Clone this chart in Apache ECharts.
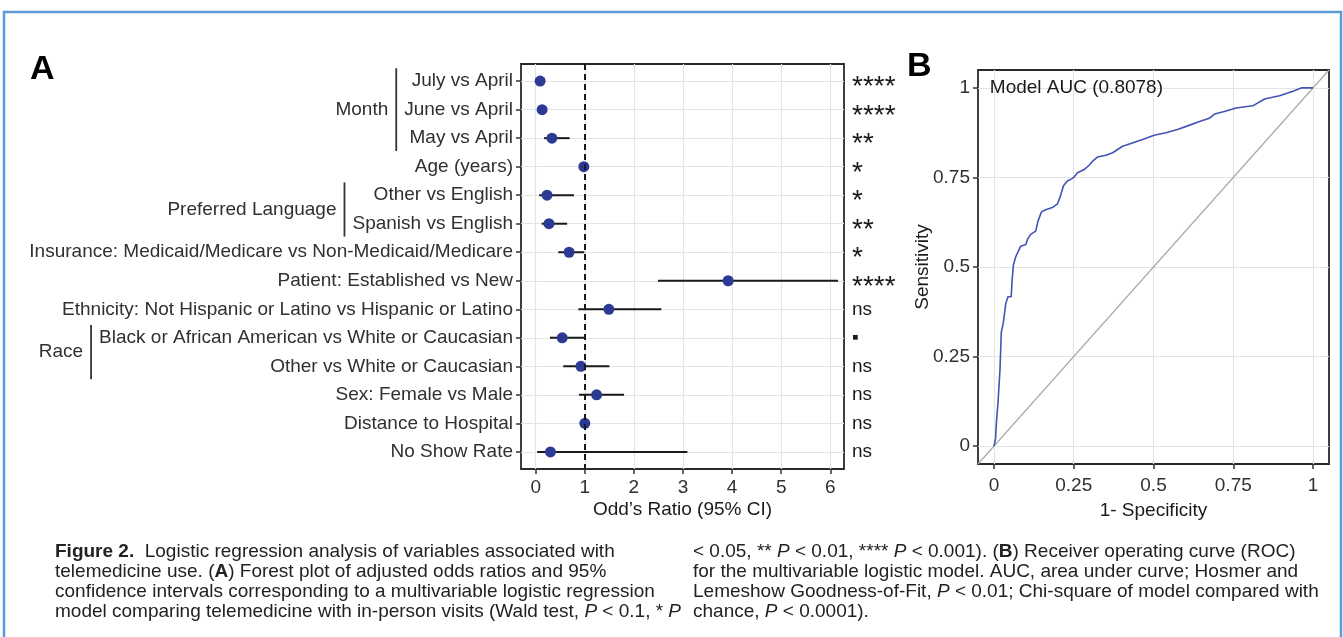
<!DOCTYPE html>
<html><head><meta charset="utf-8">
<script src="https://cdn.jsdelivr.net/npm/echarts@6/dist/echarts.min.js"></script>
<style>html,body{margin:0;padding:0;background:#fff}#c{width:1343px;height:637px}</style>
</head><body><div id="c"></div>
<script>
// ---------- DATA ----------
const variables = ['July vs April','June vs April','May vs April','Age (years)','Other vs English','Spanish vs English',
  'Insurance: Medicaid/Medicare vs Non-Medicaid/Medicare','Patient: Established vs New',
  'Ethnicity: Not Hispanic or Latino vs Hispanic or Latino','Black or African American vs White or Caucasian',
  'Other vs White or Caucasian','Sex: Female vs Male','Distance to Hospital','No Show Rate'];
const oddsRatio = [0.09,0.13,0.33,0.98,0.23,0.27,0.68,3.92,1.49,0.54,0.92,1.24,1.00,0.30];
const ciLower   = [0.05,0.08,0.17,0.97,0.07,0.12,0.46,2.49,0.87,0.29,0.56,0.88,0.98,0.03];
const ciUpper   = [0.14,0.22,0.69,0.99,0.78,0.64,0.99,6.16,2.56,1.00,1.50,1.80,1.02,3.09];
const significance = ['****','****','**','*','*','**','*','****','ns','▪','ns','ns','ns','ns'];
const groupNames = ['Month','Preferred Language','Race'];
const groupFirstRow = [1,5,10];
const groupLastRow  = [3,6,11];
const orTicks = [0,1,2,3,4,5,6];
const refOR = 1;

const rocFpr = [0,0.003,0.005,0.008,0.013,0.019,0.023,0.029,0.037,0.044,0.054,0.057,0.061,0.068,0.079,0.084,0.100,0.105,0.115,0.131,0.138,0.149,0.162,0.183,0.199,0.207,0.218,0.230,0.243,0.251,0.262,0.283,0.298,0.309,0.324,0.351,0.372,0.403,0.429,0.466,0.502,0.539,0.575,0.607,0.644,0.675,0.691,0.722,0.759,0.811,0.848,0.895,0.937,0.963,1.0];
const rocTpr = [0,0.000,0.020,0.070,0.125,0.215,0.318,0.342,0.398,0.417,0.417,0.464,0.506,0.528,0.549,0.558,0.563,0.577,0.591,0.600,0.628,0.654,0.660,0.666,0.676,0.695,0.727,0.740,0.746,0.751,0.763,0.772,0.784,0.795,0.807,0.812,0.819,0.837,0.845,0.856,0.868,0.875,0.884,0.894,0.906,0.915,0.927,0.934,0.944,0.950,0.969,0.978,0.991,1.000,1.0];
const rocTicks = [0,0.25,0.5,0.75,1];
const aucText = 'Model AUC (0.8078)';

const captionLeft = [
  '{b|Figure 2.}  Logistic regression analysis of variables associated with',
  'telemedicine use. ({b|A}) Forest plot of adjusted odds ratios and 95%',
  'confidence intervals corresponding to a multivariable logistic regression',
  'model comparing telemedicine with in-person visits (Wald test, {i|P} < 0.1, * {i|P}'
];
const captionRight = [
  '< 0.05, ** {i|P} < 0.01, **** {i|P} < 0.001). ({b|B}) Receiver operating curve (ROC)',
  'for the multivariable logistic model. AUC, area under curve; Hosmer and',
  'Lemeshow Goodness-of-Fit, {i|P} < 0.01; Chi-square of model compared with',
  'chance, {i|P} < 0.0001).'
];

// ---------- STYLE ----------
const FONT = '"Liberation Sans", Arial, Helvetica, sans-serif';
const FS = 19;
const labelColor = '#303030';
const gridLine = {show:true, lineStyle:{color:'#e4e4e4', width:1.2}};
const tick = {show:true, length:5, lineStyle:{color:'#333', width:1.5}};
const noLine = {show:false, onZero:false};
const rows = variables.map((v,i)=>i+1);
const orMin = -0.3, orMax = 6.28;
const rocMin = -0.05, rocMax = 1.05;

const chart = echarts.init(document.getElementById('c'), null, {renderer:'canvas'});

const option = {
  animation:false,
  backgroundColor:'#fff',
  textStyle:{fontFamily:FONT},
  grid:[
    {left:521, top:64, width:323, height:405, show:true, borderColor:'#2a2a2a', borderWidth:1.8, backgroundColor:'#fff', z:0},
    {left:978, top:70, width:351, height:394, show:true, borderColor:'#2a2a2a', borderWidth:1.8, backgroundColor:'#fff', z:0}
  ],
  xAxis:[
    {type:'value', gridIndex:0, min:orMin, max:orMax,
     axisLine:noLine, axisTick:Object.assign({customValues:orTicks}, tick),
     axisLabel:{customValues:orTicks, fontSize:FS, color:labelColor, margin:9, fontFamily:FONT},
     splitLine:gridLine,
     name:"Odd’s Ratio (95% CI)", nameLocation:'middle', nameGap:31, nameMoveOverlap:false,
     nameTextStyle:{fontSize:FS, color:'#1a1a1a', fontFamily:FONT}},
    {type:'value', gridIndex:1, min:rocMin, max:rocMax,
     axisLine:noLine, axisTick:Object.assign({customValues:rocTicks}, tick),
     axisLabel:{customValues:rocTicks, fontSize:FS, color:labelColor, margin:12, fontFamily:FONT, formatter:v=>String(v)},
     splitLine:gridLine,
     name:'1- Specificity', nameLocation:'middle', nameGap:37, nameMoveOverlap:false,
     nameTextStyle:{fontSize:FS, color:'#1a1a1a', fontFamily:FONT}}
  ],
  yAxis:[
    {type:'value', gridIndex:0, min:0.4, max:14.6, inverse:true,
     axisLine:noLine, axisTick:Object.assign({customValues:rows}, tick),
     axisLabel:{customValues:rows, fontSize:FS, color:labelColor, margin:8, fontFamily:FONT,
       formatter:v=>variables[Math.round(v)-1] || ''},
     splitLine:gridLine},
    {type:'value', gridIndex:0, position:'right', min:0.4, max:14.6, inverse:true,
     axisLine:noLine, axisTick:{show:false, customValues:rows},
     axisLabel:{customValues:rows, fontSize:FS, color:'#1a1a1a', margin:8, fontFamily:FONT,
       formatter:v=>{const s=significance[Math.round(v)-1]||''; return s.indexOf('*')>=0 ? '{s|'+s+'}' : s;},
       rich:{s:{fontSize:28, fontFamily:FONT, color:'#1a1a1a', padding:[13,0,0,0]}}},
     splitLine:{show:false}},
    {type:'value', gridIndex:1, min:rocMin, max:rocMax,
     axisLine:noLine, axisTick:Object.assign({customValues:rocTicks}, tick),
     axisLabel:{customValues:rocTicks, fontSize:FS, color:labelColor, margin:8, fontFamily:FONT, formatter:v=>String(v)},
     splitLine:gridLine,
     name:'Sensitivity', nameLocation:'middle', nameGap:46, nameMoveOverlap:false,
     nameTextStyle:{fontSize:FS, color:'#1a1a1a', fontFamily:FONT}}
  ],
  series:[
    {type:'custom', xAxisIndex:0, yAxisIndex:0, z:2, silent:true,
     data: rows.map((r,i)=>[ciLower[i], ciUpper[i], r]),
     encode:{x:[0,1], y:2},
     renderItem:(params, api)=>{
       const a = api.coord([api.value(0), api.value(2)]);
       const b = api.coord([api.value(1), api.value(2)]);
       return {type:'line', shape:{x1:a[0], y1:a[1], x2:b[0], y2:b[1]}, style:{stroke:'#1a1a1a', lineWidth:2}};
     }},
    {type:'scatter', xAxisIndex:0, yAxisIndex:0, z:3, silent:true,
     symbolSize:11, itemStyle:{color:'#2c3a94', opacity:1},
     data: rows.map((r,i)=>[oddsRatio[i], r]),
     markLine:{silent:true, symbol:'none', label:{show:false}, z:5,
       lineStyle:{color:'#1a1a1a', width:2, type:[6,4]},
       data:[{xAxis:refOR}]}},
    {type:'line', xAxisIndex:1, yAxisIndex:2, z:3, silent:true, showSymbol:false,
     lineStyle:{color:'#4453b5', width:1.6}, itemStyle:{color:'#4453b5'},
     data: rocFpr.map((x,i)=>[x, rocTpr[i]]),
     markLine:{silent:true, symbol:'none', label:{show:false}, z:2,
       lineStyle:{color:'#aaaaaa', width:1.2, type:'solid'},
       data:[[{coord:[rocMin,rocMin]},{coord:[rocMax,rocMax]}]]}}
  ]
};
chart.setOption(option);

// ---------- ANNOTATIONS ----------
const ctx = document.createElement('canvas').getContext('2d');
ctx.font = FS + 'px ' + FONT;
const axisLeftPx = chart.convertToPixel({xAxisIndex:0}, orMin);
const labelRight = axisLeftPx - 8;
const graphics = [];
groupNames.forEach((g, k)=>{
  let maxW = 0;
  for (let r = groupFirstRow[k]; r <= groupLastRow[k]; r++) maxW = Math.max(maxW, ctx.measureText(variables[r-1]).width);
  const bx = labelRight - maxW - 8;
  const y1 = chart.convertToPixel({yAxisIndex:0}, groupFirstRow[k] - 0.45);
  const y2 = chart.convertToPixel({yAxisIndex:0}, groupLastRow[k] + 0.45);
  const ym = chart.convertToPixel({yAxisIndex:0}, (groupFirstRow[k] + groupLastRow[k]) / 2);
  graphics.push({type:'line', shape:{x1:bx, y1:y1, x2:bx, y2:y2}, style:{stroke:'#333', lineWidth:1.8}, silent:true});
  graphics.push({type:'text', x:bx - 8, y:ym, style:{text:g, font:FS+'px '+FONT, fill:labelColor, align:'right', verticalAlign:'middle'}, silent:true});
});
// AUC annotation
const aucPos = chart.convertToPixel({xAxisIndex:1, yAxisIndex:2}, [-0.013, 1]);
graphics.push({type:'text', x:aucPos[0], y:aucPos[1], style:{text:aucText, font:FS+'px '+FONT, fill:'#1a1a1a', align:'left', verticalAlign:'middle'}, silent:true, z:10});
// panel letters
graphics.push({type:'text', x:30, y:70, style:{text:'A', font:'bold 34px '+FONT, fill:'#000', align:'left', verticalAlign:'middle'}});
graphics.push({type:'text', x:907, y:67, style:{text:'B', font:'bold 34px '+FONT, fill:'#000', align:'left', verticalAlign:'middle'}});
// outer frame
graphics.push({type:'rect', shape:{x:4, y:12, width:1337, height:660}, style:{fill:'none', stroke:'#5b9bd5', lineWidth:2.5}, silent:true});
// caption
const CF = '"Liberation Sans", Arial, sans-serif';
ctx.font = '16px ' + CF;
const capFS = Math.round(16 * 600 / ctx.measureText(captionLeft[2]).width * 10) / 10;
const capRich = {b:{fontWeight:'bold', fontSize:capFS, fontFamily:CF, fill:'#222'}, i:{fontStyle:'italic', fontSize:capFS, fontFamily:CF, fill:'#222'}};
const capY = [552, 572, 592, 612];
captionLeft.forEach((t,i)=>graphics.push({type:'text', x:55, y:capY[i], style:{text:t, fontSize:capFS, fontFamily:CF, fill:'#222', verticalAlign:'middle', rich:capRich}, silent:true}));
captionRight.forEach((t,i)=>graphics.push({type:'text', x:693, y:capY[i], style:{text:t, fontSize:capFS, fontFamily:CF, fill:'#222', verticalAlign:'middle', rich:capRich}, silent:true}));
chart.setOption({graphic:graphics});
</script>
</body></html>
